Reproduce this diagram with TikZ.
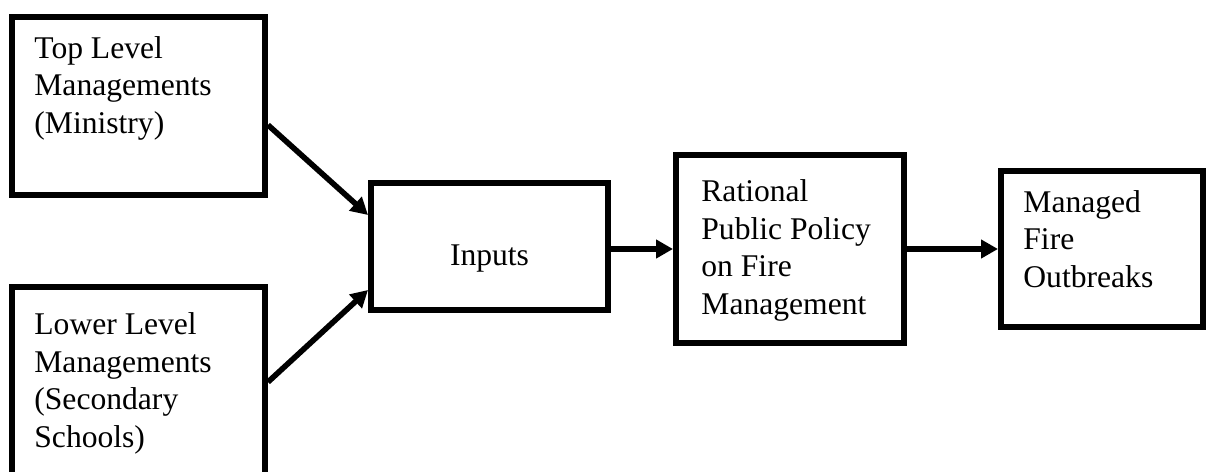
\documentclass[tikz,border=0pt]{standalone}
\usepackage{fontspec}
\setmainfont{Liberation Serif}
\usetikzlibrary{arrows.meta}
\usetikzlibrary{positioning}

\begin{document}
\begin{tikzpicture}[x=0.5pt,y=-0.5pt,
  blk/.style={draw=black, line width=3pt, inner sep=0pt},
  lbl/.style={anchor=base west, align=left, inner sep=0pt, font=\fontsize{15.8}{18.75}\selectfont},
  arr/.style={draw=black, line width=2.8pt, -{Triangle[length=8.5pt,width=9pt]}}]
\useasboundingbox (0,0) rectangle (1208,471);
% boxes
\node[blk, minimum width=126.5pt, minimum height=89pt] (top) at (138.5,106) {};
\node[blk, minimum width=126.5pt, minimum height=121.5pt] (low) at (138.5,408.5) {};
\node[blk, minimum width=118.5pt, minimum height=63.5pt] (inputs) at (489.5,246.5) {};
\node[blk, minimum width=114pt, minimum height=94pt] (rational) at (790,249) {};
\node[blk, minimum width=101pt, minimum height=78pt] (managed) at (1102,249) {};
% texts (base = last line)
\node[lbl] (topText) at (34,133) {Top Level\\Managements\\(Ministry)};
\node[lbl] (lowText) at (34,447) {Lower Level\\Managements\\(Secondary\\Schools)};
\node[lbl, anchor=base] (inputsText) at (489.5,265) {Inputs};
\node[lbl] (rationalText) at (701,314) {Rational\\Public Policy\\on Fire\\Management};
\node[lbl] (managedText) at (1023,287) {Managed\\Fire\\Outbreaks};
% arrows
\draw[arr] ([yshift=-9.5pt]top.east) -- ([yshift=15.75pt]inputs.west);
\draw[arr] ([yshift=13.25pt]low.east) -- ([yshift=-21.75pt]inputs.west);
\draw[arr] (inputs.east |- rational.west) -- (rational.west);
\draw[arr] (rational.east) -- (managed.west);
\end{tikzpicture}
\end{document}
